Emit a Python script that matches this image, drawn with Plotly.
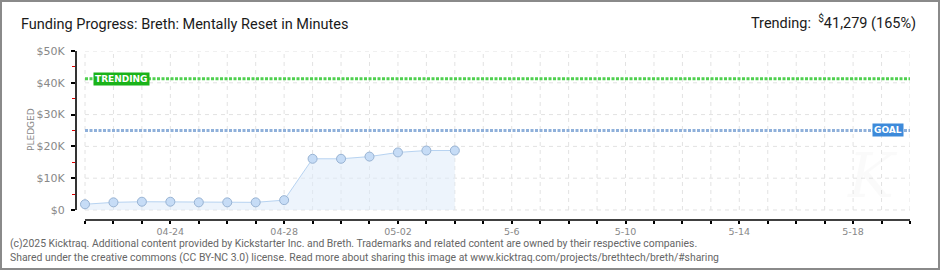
import plotly.graph_objects as go

# ---------------- data ----------------
dates = ["2025-04-21", "2025-04-22", "2025-04-23", "2025-04-24", "2025-04-25",
         "2025-04-26", "2025-04-27", "2025-04-28", "2025-04-29", "2025-04-30",
         "2025-05-01", "2025-05-02", "2025-05-03", "2025-05-04"]
pledged = [1800, 2400, 2600, 2600, 2400, 2400, 2400, 3100,
           16100, 16100, 16800, 18100, 18700, 18700]
goal = 25000
trending = 41279
trending_pct = "165%"
axis_days = ["2025-04-%02d" % d for d in range(21, 31)] + ["2025-05-%02d" % d for d in range(1, 21)]
label_dates = ["2025-04-24", "2025-04-28", "2025-05-02", "2025-05-06",
               "2025-05-10", "2025-05-14", "2025-05-18"]
label_text = ["04-24", "04-28", "05-02", "5-6", "5-10", "5-14", "5-18"]
y_ticks = [0, 10000, 20000, 30000, 40000, 50000]
y_tick_text = ["$0", "$10K", "$20K", "$30K", "$40K", "$50K"]
y_minor = [5000, 15000, 25000, 35000, 45000]
title = "Funding Progress: Breth: Mentally Reset in Minutes"
footer1 = ("(c)2025 Kicktraq. Additional content provided by Kickstarter Inc. and Breth. "
           "Trademarks and related content are owned by their respective companies.")
footer2 = ("Shared under the creative commons (CC BY-NC 3.0) license. Read more about sharing "
           "this image at www.kicktraq.com/projects/brethtech/breth/#sharing")

# ---------------- layout geometry ----------------
W, H = 940, 270
ML, MR, MT, MB = 76, 30, 51, 50
PW, PH = W - ML - MR, H - MT - MB


def px_x(px):
    return (px - ML) / PW


def px_y(py):
    return (H - MB - py) / PH


NARROW = "Roboto, sans-serif"
PIX = "DejaVu Sans, sans-serif"

fig = go.Figure()

# area + line + markers
fig.add_trace(go.Scatter(
    x=dates, y=pledged, mode="lines+markers",
    line=dict(color="#b7d3f1", width=1),
    fill="tozeroy", fillcolor="rgba(222,235,250,0.55)",
    marker=dict(size=9, color="#c6dcf6", line=dict(color="#98b3d3", width=1)),
    hoverinfo="skip", showlegend=False,
))

shapes = []
# vertical grid
for d in axis_days:
    shapes.append(dict(type="line", xref="x", yref="y", x0=d, x1=d, y0=0, y1=50000,
                       line=dict(color="#e2e2e2", width=1, dash="4px,4px"), layer="below"))
# horizontal grid
for v in y_ticks:
    shapes.append(dict(type="line", xref="x", yref="y", x0=axis_days[0], x1=axis_days[-1],
                       y0=v, y1=v, line=dict(color="#e2e2e2", width=1, dash="4px,4px"),
                       layer="below"))
# goal line
shapes.append(dict(type="line", xref="x", yref="y", x0=axis_days[0], x1=axis_days[-1],
                   y0=goal, y1=goal, line=dict(color="#8fb0da", width=3, dash="3px,1.5px")))
# trending line
shapes.append(dict(type="line", xref="x", yref="y", x0=axis_days[0], x1=axis_days[-1],
                   y0=trending, y1=trending, line=dict(color="#4fd04f", width=3, dash="3px,1.5px")))
# y axis line
shapes.append(dict(type="line", xref="paper", yref="y", x0=0, x1=0, y0=0, y1=50000,
                   line=dict(color="#000", width=1.6)))
# x axis line
shapes.append(dict(type="line", xref="x", yref="paper", x0=axis_days[0], x1=axis_days[-1],
                   y0=0, y1=0, line=dict(color="#000", width=1.6)))
# outer border
shapes.append(dict(type="rect", xref="paper", yref="paper",
                   x0=px_x(1), x1=px_x(W - 1), y0=px_y(H - 1), y1=px_y(1),
                   line=dict(color="#8a8a8a", width=2)))

annotations = [
    dict(text=title, xref="paper", yref="paper", x=px_x(19), y=px_y(24),
         xanchor="left", yanchor="middle", showarrow=False,
         font=dict(family=NARROW, size=14.5, color="#1a1a1a")),
    dict(text="Trending:  <sup>$</sup>41,279 (" + trending_pct + ")", xref="paper", yref="paper",
         x=px_x(918), y=px_y(22), xanchor="right", yanchor="middle", showarrow=False,
         font=dict(family=NARROW, size=14.5, color="#1a1a1a")),
    dict(text="PLEDGED", xref="paper", yref="paper", x=px_x(31), y=px_y(130),
         textangle=-90, xanchor="center", yanchor="middle", showarrow=False,
         font=dict(family=PIX, size=9, color="#888")),
    dict(text="<b>TRENDING</b>", xref="x", yref="y", x=axis_days[0], y=trending,
         xanchor="left", yanchor="middle", xshift=8, showarrow=False,
         bgcolor="#19b319", borderpad=1,
         font=dict(family=PIX, size=9, color="#fff")),
    dict(text="<b>GOAL</b>", xref="x", yref="y", x=axis_days[-1], y=goal,
         xanchor="right", yanchor="middle", xshift=-6, showarrow=False,
         bgcolor="#3d8ada", borderpad=1,
         font=dict(family=PIX, size=9, color="#fff")),
    dict(text="<i>K</i>", xref="paper", yref="paper", x=px_x(872), y=px_y(175),
         xanchor="center", yanchor="middle", showarrow=False,
         font=dict(family="DejaVu Serif", size=62, color="rgba(0,0,0,0.018)")),
    dict(text=footer1, xref="paper", yref="paper", x=px_x(8), y=px_y(243),
         xanchor="left", yanchor="middle", showarrow=False,
         font=dict(family=NARROW, size=10.4, color="#666")),
    dict(text=footer2, xref="paper", yref="paper", x=px_x(8), y=px_y(257),
         xanchor="left", yanchor="middle", showarrow=False,
         font=dict(family=NARROW, size=10.4, color="#666")),
]

fig.update_layout(
    width=W, height=H,
    margin=dict(l=ML, r=MR, t=MT, b=MB, pad=0),
    paper_bgcolor="#fff", plot_bgcolor="#fff",
    shapes=shapes, annotations=annotations, showlegend=False,
    xaxis=dict(
        type="date", range=["2025-04-20 16:24", "2025-05-20 00:00"],
        tickmode="array", tickvals=label_dates, ticktext=label_text,
        ticks="outside", ticklen=3, tickwidth=1.5, tickcolor="#000",
        minor=dict(tickmode="array", tickvals=axis_days, ticks="outside", ticklen=3,
                   tickwidth=1.5, tickcolor="#000", showgrid=False),
        showgrid=False, showline=False, zeroline=False,
        tickfont=dict(family=PIX, size=9.5, color="#888"), tickangle=0,
        fixedrange=True,
    ),
    yaxis=dict(
        range=[-3150, 50000],
        tickmode="array", tickvals=y_ticks, ticktext=y_tick_text,
        ticks="outside", ticklen=4, tickwidth=1.5, tickcolor="#000",
        minor=dict(tickmode="array", tickvals=y_minor, ticks="outside", ticklen=3,
                   tickwidth=1, tickcolor="#e00000", showgrid=False),
        showgrid=False, showline=False, zeroline=False,
        tickfont=dict(family=PIX, size=11, color="#888"),
        ticklabelstandoff=4,
        fixedrange=True,
    ),
)

fig.write_html("out.html")
